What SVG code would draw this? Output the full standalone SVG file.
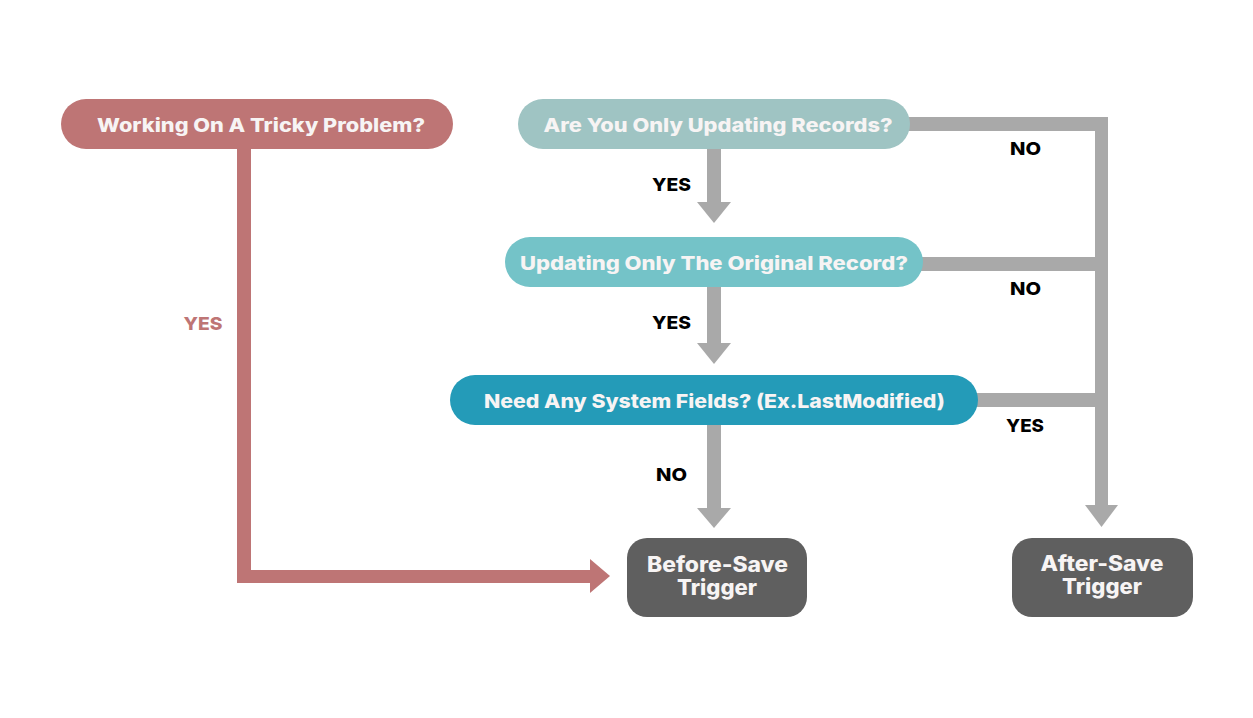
<svg xmlns="http://www.w3.org/2000/svg" width="1253" height="718" viewBox="0 0 1253 718">
<style>
.nt{font-family:Inter,"Liberation Sans",sans-serif;font-weight:800;fill:#F7F4F4;text-anchor:middle;font-size:19px}
.tt{font-family:Inter,"Liberation Sans",sans-serif;font-weight:800;fill:#F7F4F4;text-anchor:middle;font-size:21px}
.lb{font-family:Inter,"Liberation Sans",sans-serif;font-weight:800;fill:#000;text-anchor:middle;font-size:18px}
.gl{fill:#A9A9A9}
.rl{fill:#BE7575}
</style>
<rect width="1253" height="718" fill="#fff"/>
<g id="connectors">
  <rect class="rl" x="237" y="140" width="14" height="443"/>
  <rect class="rl" x="237" y="570" width="354" height="13"/>
  <polygon class="rl" points="590,559 610,576 590,593"/>
  <rect class="gl" x="707" y="145" width="14" height="58"/>
  <polygon class="gl" points="697,202 731,202 714,223"/>
  <rect class="gl" x="707" y="283" width="14" height="61"/>
  <polygon class="gl" points="697,343 731,343 714,364"/>
  <rect class="gl" x="707" y="421" width="14" height="88"/>
  <polygon class="gl" points="697,508 731,508 714,528"/>
  <rect class="gl" x="900" y="117" width="208" height="14"/>
  <rect class="gl" x="915" y="257" width="193" height="14"/>
  <rect class="gl" x="970" y="393" width="138" height="14"/>
  <rect class="gl" x="1095" y="117" width="13" height="389"/>
  <polygon class="gl" points="1085,505 1118,505 1101.5,527"/>
  <text class="lb" x="671.5" y="191" textLength="39" lengthAdjust="spacingAndGlyphs">YES</text>
  <text class="lb" x="671.5" y="329" textLength="39" lengthAdjust="spacingAndGlyphs">YES</text>
  <text class="lb" x="671.5" y="481" textLength="31" lengthAdjust="spacingAndGlyphs">NO</text>
  <text class="lb" x="1025.5" y="155" textLength="31" lengthAdjust="spacingAndGlyphs">NO</text>
  <text class="lb" x="1025.5" y="295" textLength="31" lengthAdjust="spacingAndGlyphs">NO</text>
  <text class="lb" x="1025" y="432" textLength="38" lengthAdjust="spacingAndGlyphs">YES</text>
  <text class="lb" x="203" y="330" textLength="39" lengthAdjust="spacingAndGlyphs" style="fill:#BE7575">YES</text>
</g>
<g id="n-tricky">
  <rect x="61" y="99" width="392" height="50" rx="25" fill="#BE7575"/>
  <text class="nt" x="261" y="132" textLength="328" lengthAdjust="spacingAndGlyphs">Working On A Tricky Problem?</text>
</g>
<g id="n-updating">
  <rect x="518" y="99" width="392" height="50" rx="25" fill="#9FC4C3"/>
  <text class="nt" x="718" y="132" textLength="349" lengthAdjust="spacingAndGlyphs">Are You Only Updating Records?</text>
</g>
<g id="n-original">
  <rect x="505" y="237" width="418" height="50" rx="25" fill="#74C3C8"/>
  <text class="nt" x="714" y="270" textLength="388" lengthAdjust="spacingAndGlyphs">Updating Only The Original Record?</text>
</g>
<g id="n-system">
  <rect x="450" y="375" width="528" height="50" rx="25" fill="#249BB8"/>
  <text class="nt" x="714.5" y="408" textLength="461" lengthAdjust="spacingAndGlyphs">Need Any System Fields? (Ex.LastModified)</text>
</g>
<g id="n-before">
  <rect x="627" y="538" width="180" height="79" rx="20" fill="#5F5F5F"/>
  <text class="tt" x="717.5" y="572" textLength="141" lengthAdjust="spacingAndGlyphs">Before-Save</text>
  <text class="tt" x="717" y="595" textLength="80" lengthAdjust="spacingAndGlyphs">Trigger</text>
</g>
<g id="n-after">
  <rect x="1012" y="538" width="181" height="79" rx="20" fill="#5F5F5F"/>
  <text class="tt" x="1102" y="571" textLength="123" lengthAdjust="spacingAndGlyphs">After-Save</text>
  <text class="tt" x="1102" y="594" textLength="80" lengthAdjust="spacingAndGlyphs">Trigger</text>
</g>
</svg>
